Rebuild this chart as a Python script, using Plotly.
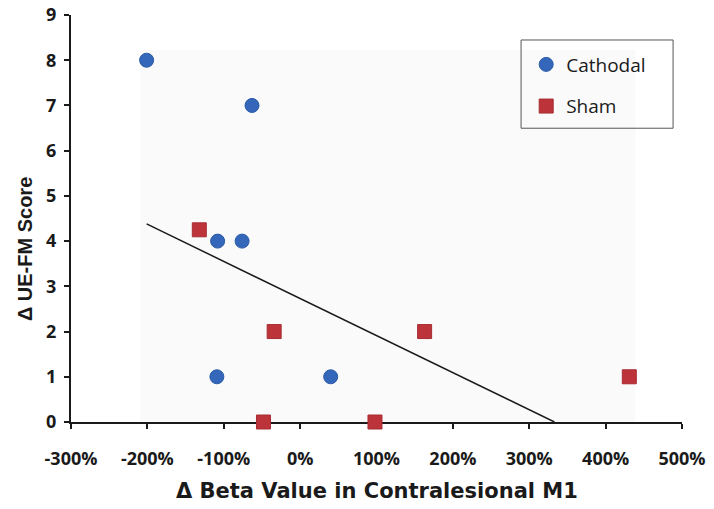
import plotly.graph_objects as go

# Data
cathodal_x = [-201, -63, -108, -76, -109, 40]   # Δ Beta value (%)
cathodal_y = [8, 7, 4, 4, 1, 1]                 # Δ UE-FM score
sham_x = [-132, -34, 163, 431, -48, 98]
sham_y = [4.25, 2, 2, 1, 0, 0]
trend_x = [-201, 333]
trend_y = [4.38, 0]
x_ticks = [-300, -200, -100, 0, 100, 200, 300, 400, 500]
x_tick_labels = ["-300%", "-200%", "-100%", "0%", "100%", "200%", "300%", "400%", "500%"]
y_ticks = list(range(0, 10))

TICK_FONT = dict(family="Open Sans", size=18, color="#1a1a1a", weight="bold")

fig = go.Figure()
fig.add_trace(go.Scatter(
    x=trend_x, y=trend_y, mode="lines", showlegend=False,
    line=dict(color="#1a1a1a", width=1.5), cliponaxis=False, hoverinfo="skip"))
fig.add_trace(go.Scatter(
    x=cathodal_x, y=cathodal_y, mode="markers", name="Cathodal",
    legendgroup="c", cliponaxis=False,
    marker=dict(symbol="circle", size=14, color="#3467BA",
                line=dict(color="#2A5AA8", width=1))))
fig.add_trace(go.Scatter(
    x=sham_x, y=sham_y, mode="markers", name="Sham",
    legendgroup="s", cliponaxis=False,
    marker=dict(symbol="square", size=14, color="#BC3439",
                line=dict(color="#A82C33", width=1))))

# faint plot-area fill
fig.add_shape(type="rect", xref="paper", yref="paper", x0=0.1137, x1=0.9237,
              y0=0, y1=0.914, fillcolor="#fafafa", line=dict(width=0), layer="below")
# legend box
fig.add_shape(type="rect", xref="paper", yref="paper", x0=0.7366, x1=0.9854,
              y0=0.7218, y1=0.9386, fillcolor="rgba(0,0,0,0)",
              line=dict(color="#555555", width=1), layer="above")

fig.add_annotation(text="Δ Beta Value in Contralesional M1", xref="paper", yref="paper",
                   x=0.5, y=-0.1687, xanchor="center", yanchor="middle", showarrow=False,
                   font=dict(family="DejaVu Sans", size=21, color="#1a1a1a", weight="bold"))
fig.add_annotation(text="Δ UE-FM Score", xref="paper", yref="paper",
                   x=-0.0748, y=0.4255, xanchor="center", yanchor="middle", showarrow=False,
                   textangle=-90,
                   font=dict(family="Liberation Sans", size=20, color="#1a1a1a", weight="bold"))

fig.update_layout(
    width=714, height=509,
    margin=dict(l=71, r=32, t=15, b=87, autoexpand=False),
    paper_bgcolor="white", plot_bgcolor="white",
    showlegend=True,
    legend=dict(x=0.745, y=0.925, xanchor="left", yanchor="top",
                bgcolor="rgba(0,0,0,0)", borderwidth=0,
                traceorder="grouped", tracegroupgap=14,
                font=dict(family="Open Sans", size=19, color="#1a1a1a")),
    xaxis=dict(range=[-300, 500], tickmode="array", tickvals=x_ticks, ticktext=x_tick_labels,
               showgrid=False, zeroline=False, showline=True, automargin=False,
               linecolor="#1a1a1a", linewidth=2, ticks="outside", ticklen=5,
               tickwidth=1.5, tickcolor="#1a1a1a", layer="below traces",
               tickfont=TICK_FONT, ticklabelstandoff=14),
    yaxis=dict(range=[0, 9], tickmode="array", tickvals=y_ticks,
               showgrid=False, zeroline=False, showline=True, automargin=False,
               linecolor="#1a1a1a", linewidth=2, ticks="outside", ticklen=5,
               tickwidth=1.5, tickcolor="#1a1a1a", layer="below traces",
               tickfont=TICK_FONT, ticklabelstandoff=4),
)

fig.write_html("out.html", config={"displayModeBar": False},
               post_script="document.body.style.margin='0';")
